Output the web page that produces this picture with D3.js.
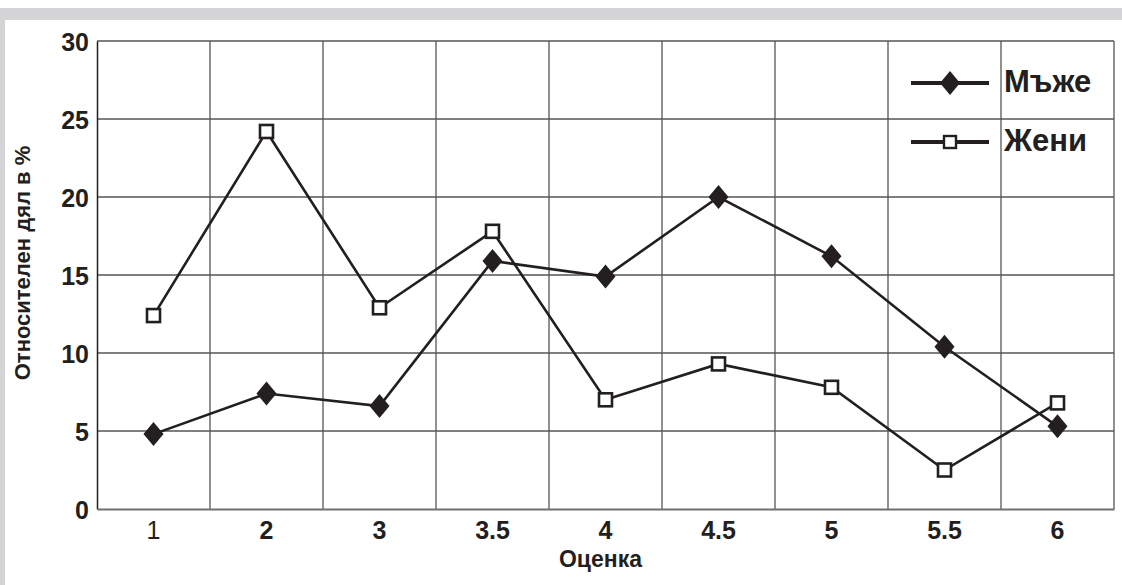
<!DOCTYPE html>
<html>
<head>
<meta charset="utf-8">
<script src="https://cdn.jsdelivr.net/npm/d3@7"></script>
<style>
    html, body { margin: 0; padding: 0; background: #fff; }
    svg { display: block; font-family: "Liberation Sans", Arial, sans-serif; }
    text { fill: #231f20; font-weight: bold; }
</style>
</head>
<body>
<svg id="chart" width="1122" height="585"></svg>
<script>
// categories on the x axis (grades)
const grades = ['1', '2', '3', '3.5', '4', '4.5', '5', '5.5', '6'];

// share in percent
const men = [4.8, 7.4, 6.6, 15.9, 14.9, 20.0, 16.2, 10.4, 5.3];
const women = [12.4, 24.2, 12.9, 17.8, 7.0, 9.3, 7.8, 2.5, 6.8];

const yTicks = [0, 5, 10, 15, 20, 25, 30];

const seriesNames = ['Мъже', 'Жени'];

const width = 1122;
const height = 585;
const margin = { top: 41, right: 8, bottom: 76, left: 97 };

const svg = d3.select('#chart');

// gray frame round the picture
svg.append('rect')
    .attr('x', 0).attr('y', 8)
    .attr('width', width).attr('height', 12)
    .style('fill', '#d4d4d6');
svg.append('rect')
    .attr('x', 0).attr('y', 8)
    .attr('width', 5).attr('height', height - 8)
    .style('fill', '#d4d4d6');

const x = d3
    .scaleBand()
    .domain(grades)
    .range([margin.left, width - margin.right])
    .padding(0);

const y = d3
    .scaleLinear()
    .domain([0, 30])
    .range([height - margin.bottom, margin.top]);

const grid = svg.append('g').attr('class', 'grid');

// horizontal grid lines
grid.selectAll('line.h')
    .data(yTicks.filter((d) => d > 0))
    .join('line')
    .attr('class', 'h')
    .attr('x1', margin.left)
    .attr('x2', width - margin.right)
    .attr('y1', (d) => y(d))
    .attr('y2', (d) => y(d))
    .style('stroke', '#555')
    .style('stroke-width', 1.3);

// vertical grid lines on the band edges
grid.selectAll('line.v')
    .data(grades.slice(1).map((g) => x(g)).concat([x.range()[1]]))
    .join('line')
    .attr('class', 'v')
    .attr('x1', (d) => d)
    .attr('x2', (d) => d)
    .attr('y1', margin.top)
    .attr('y2', y(0))
    .style('stroke', '#555')
    .style('stroke-width', 1.3);

// axes
const yAxis = svg.append('g')
    .attr('transform', `translate(${margin.left},0)`)
    .call(d3.axisLeft(y).tickValues(yTicks).tickSize(0).tickPadding(8));

yAxis.select('.domain').style('stroke', '#231f20').style('stroke-width', 1.5);
yAxis.selectAll('text')
    .style('font-size', '25px')
    .style('font-family', '"Liberation Sans", Arial, sans-serif')
    .attr('dy', '0.36em');

const xAxis = svg.append('g')
    .attr('transform', `translate(0,${y(0)})`)
    .call(d3.axisBottom(x).tickSize(0).tickPadding(12));

xAxis.select('.domain').style('stroke', '#6e6e6e').style('stroke-width', 2.2);
xAxis.selectAll('text')
    .style('font-size', '25px')
    .style('font-family', '"Liberation Sans", Arial, sans-serif')
    .style('font-weight', (d) => (d === '1' ? 'normal' : 'bold'))
    .attr('dy', '0.71em');

// axis titles
svg.append('text')
    .attr('x', (margin.left + width - margin.right) / 2 - 5)
    .attr('y', 567)
    .attr('text-anchor', 'middle')
    .style('font-size', '23px')
    .text('Оценка');

svg.append('text')
    .attr('transform', 'translate(30,263) rotate(-90)')
    .attr('text-anchor', 'middle')
    .style('font-size', '22px')
    .text('Относителен дял в %');

// lines and markers
const cx = (g) => x(g) + x.bandwidth() / 2;
const line = d3
    .line()
    .x((d, i) => cx(grades[i]))
    .y((d) => y(d));

const diamond = (s) => `M0,${-s * 1.2}L${s},0L0,${s * 1.2}L${-s},0Z`;

const plot = svg.append('g').attr('class', 'plot-area');

[women, men].forEach((values) => {
    plot.append('path')
        .datum(values)
        .attr('d', line)
        .style('fill', 'none')
        .style('stroke', '#231f20')
        .style('stroke-width', 2.6);
});

plot.selectAll('path.men')
    .data(men)
    .join('path')
    .attr('class', 'men')
    .attr('transform', (d, i) => `translate(${cx(grades[i])},${y(d)})`)
    .attr('d', diamond(10))
    .style('fill', '#231f20');

plot.selectAll('rect.women')
    .data(women)
    .join('rect')
    .attr('class', 'women')
    .attr('x', (d, i) => cx(grades[i]) - 6.5)
    .attr('y', (d) => y(d) - 6.5)
    .attr('width', 13)
    .attr('height', 13)
    .style('fill', '#fff')
    .style('stroke', '#231f20')
    .style('stroke-width', 2.6);

// legend
const legend = svg.append('g').attr('class', 'legend');
const legendRows = legend.selectAll('g')
    .data(seriesNames)
    .join('g')
    .attr('transform', (d, i) => `translate(0,${83 + i * 59})`);

legendRows.append('line')
    .attr('x1', 911)
    .attr('x2', 989)
    .style('stroke', '#231f20')
    .style('stroke-width', 4);

legendRows.filter((d, i) => i === 0)
    .append('path')
    .attr('transform', 'translate(950,0)')
    .attr('d', diamond(10))
    .style('fill', '#231f20');

legendRows.filter((d, i) => i === 1)
    .append('rect')
    .attr('x', 944).attr('y', -6)
    .attr('width', 12).attr('height', 12)
    .style('fill', '#fff')
    .style('stroke', '#231f20')
    .style('stroke-width', 2.4);

legendRows.append('text')
    .attr('x', 1004)
    .attr('y', 9)
    .style('font-size', '31px')
    .text((d) => d);
</script>
</body>
</html>
